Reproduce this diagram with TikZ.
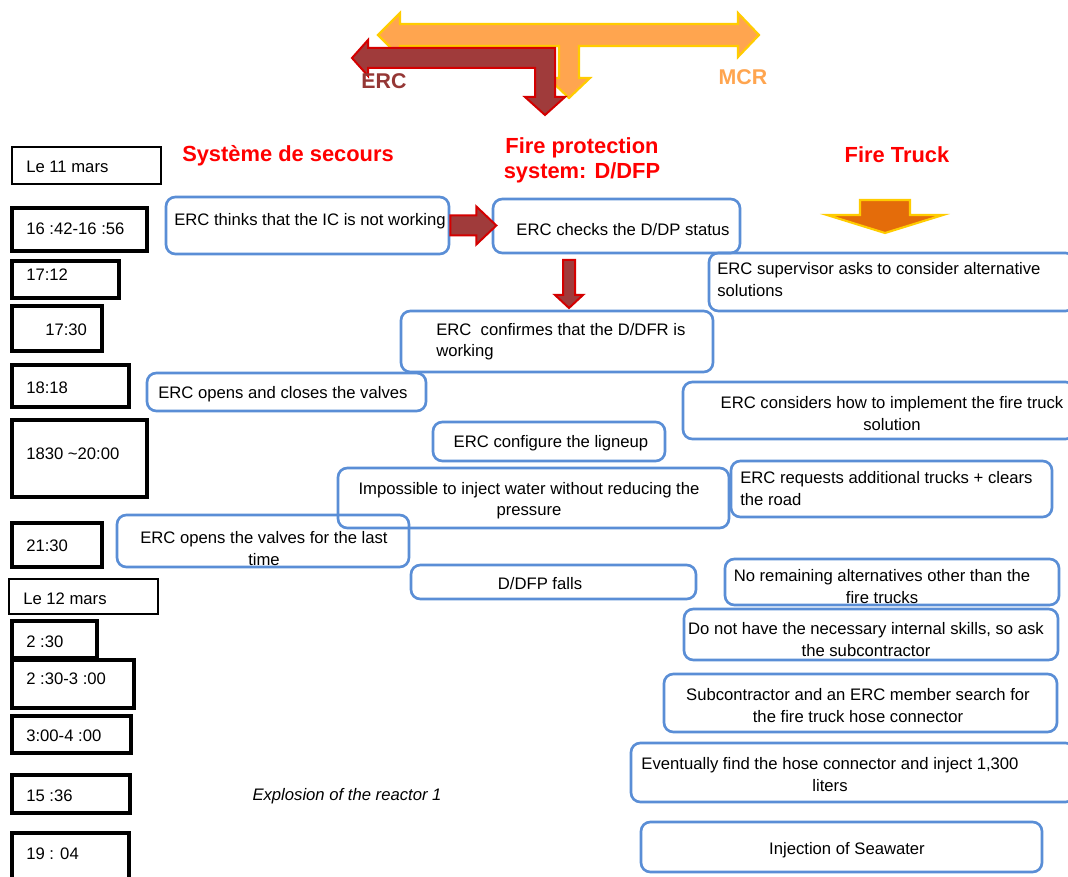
\documentclass[tikz,border=0pt]{standalone}
\usepackage{fontspec}
\setmainfont{Liberation Sans}
\usetikzlibrary{fit}
\definecolor{boxblue}{HTML}{5A8ED6}
\definecolor{hdrred}{HTML}{FF0000}
\definecolor{ercred}{HTML}{953735}
\definecolor{arrred}{HTML}{A03B3B}
\definecolor{arredge}{HTML}{D40000}
\definecolor{mcrorange}{HTML}{FFA54F}
\definecolor{goldedge}{HTML}{FFCC00}
\definecolor{truckorange}{HTML}{E46C0A}
\tikzset{
  tbox/.style={draw=black, line width=2.5pt, inner sep=0pt, fit={#1}},
  dbox/.style={draw=black, line width=1.2pt, inner sep=0pt, fit={#1}},
  bbox/.style={draw=boxblue, line width=2pt, rounded corners=7pt, inner sep=0pt, fit={#1}},
  txt/.style={font=\fontsize{12.5}{16}\selectfont, inner sep=0pt, yshift=-1.1pt},
  hdr/.style={font=\fontsize{16.4}{18.75}\selectfont\bfseries, text=hdrred, inner sep=0pt, align=center},
  redarr/.style={fill=arrred, draw=arredge, line width=1.5pt, line join=miter},
  orarr/.style={fill=mcrorange, draw=goldedge, line width=1.6pt, line join=miter},
  truckarr/.style={fill=truckorange, draw=goldedge, line width=1.6pt, line join=miter}
}
\begin{document}
\begin{tikzpicture}[x=0.75pt,y=-0.75pt]
\useasboundingbox (0,0) rectangle (1068,877);
\clip (0,0) rectangle (1068,877);
\fill[white] (0,0) rectangle (1068,877);

% top arrows
\draw[orarr] (378,35) -- (400,13) -- (400,24) -- (738,24) -- (738,13) -- (759,35)
  -- (738,57) -- (738,46) -- (579,46) -- (579,78) -- (590,78) -- (569,98)
  -- (548,78) -- (559,78) -- (559,46) -- (400,46) -- (400,57) -- cycle;
\draw[redarr] (352,58) -- (368,40) -- (368,48) -- (555,48) -- (555,97) -- (565,97)
  -- (545,115) -- (525,97) -- (535,97) -- (535,68) -- (368,68) -- (368,76) -- cycle;
\node[font=\fontsize{16}{18}\selectfont\bfseries, text=ercred, inner sep=0pt] (erc) at (384,81) {ERC};
\node[font=\fontsize{16}{18}\selectfont\bfseries, text=mcrorange, inner sep=0pt] (mcr) at (743,77) {MCR};

% headers
\node[hdr] (h1) at (288,156) {Système de secours};
\node[hdr] (h2) at (582,160) {Fire protection\\system: D/DFP};
\node[hdr] (h3) at (897,155) {Fire Truck};

% time boxes
\node[dbox={(12,147) (161,184)}] (t0) {};
\node[txt, anchor=west] (tt0) at (26,165) {Le 11 mars};
\node[tbox={(12,208) (147,251)}] (t1) {};
\node[txt, anchor=west] (tt1) at (26,227) {16 :42-16 :56};
\node[tbox={(12,261) (119,298)}] (t2) {};
\node[txt, anchor=west] (tt2) at (26,273) {17:12};
\node[tbox={(12,306) (102,351)}] (t3) {};
\node[txt, anchor=west] (tt3) at (45,328) {17:30};
\node[tbox={(12,365) (129,407)}] (t4) {};
\node[txt, anchor=west] (tt4) at (26,386) {18:18};
\node[tbox={(12,420) (147,497)}] (t5) {};
\node[txt, anchor=west] (tt5) at (26,452) {1830 \textasciitilde20:00};
\node[tbox={(12,523) (102,567)}] (t6) {};
\node[txt, anchor=west] (tt6) at (26,544) {21:30};
\node[dbox={(9,579) (158,614)}] (t7) {};
\node[txt, anchor=west] (tt7) at (23,597) {Le 12 mars};
\node[tbox={(12,621) (97,658)}] (t8) {};
\node[txt, anchor=west] (tt8) at (26,640) {2 :30};
\node[tbox={(12,660) (134,708)}] (t9) {};
\node[txt, anchor=west] (tt9) at (26,677) {2 :30-3 :00};
\node[tbox={(12,716) (131,753)}] (t10) {};
\node[txt, anchor=west] (tt10) at (26,734) {3:00-4 :00};
\node[tbox={(12,775) (130,813)}] (t11) {};
\node[txt, anchor=west] (tt11) at (26,794) {15 :36};
\node[tbox={(12,833) (129,895)}] (t12) {};
\node[txt, anchor=west] (tt12) at (26,852) {19 : 04};

% event boxes
\node[bbox={(166,197) (449,254)}] (b1) {};
\node[txt, anchor=west] (bt1) at (174,220) {ERC thinks that the IC is not working};
\node[bbox={(493,199) (740,253)}] (b2) {};
\node[txt] (bt2) at (623,228) {ERC checks the D/DP status};
\node[bbox={(709,253) (1075,311)}] (b3) {};
\node[txt, anchor=west, align=left] (bt3) at (717,278) {ERC supervisor asks to consider alternative\\solutions};
\node[bbox={(401,311) (713,372)}] (b4) {};
\node[txt, anchor=west, align=left] (bt4) at (436,340) {ERC~ confirmes that the D/DFR is\\working};
\node[bbox={(147,373) (426,411)}] (b5) {};
\node[txt, anchor=west] (bt5) at (158,393) {ERC opens and closes the valves};
\node[bbox={(683,382) (1075,439)}] (b6) {};
\node[txt, align=center] (bt6) at (892,412) {ERC considers how to implement the fire truck\\solution};
\node[bbox={(433,422) (665,461)}] (b7) {};
\node[txt] (bt7) at (551,442) {ERC configure the ligneup};
\node[bbox={(117,515) (409,567)}] (b10) {};
\node[txt, align=center] (bt10) at (264,547) {ERC opens the valves for the last\\time};
\node[bbox={(338,468) (729,528)}] (b8) {};
\node[txt, align=center] (bt8) at (529,499) {Impossible to inject water without reducing the\\pressure};
\node[bbox={(731,461) (1052,517)}] (b9) {};
\node[txt, anchor=west, align=left] (bt9) at (740,487) {ERC requests additional trucks + clears\\the road};
\node[bbox={(411,565) (696,599)}] (b11) {};
\node[txt] (bt11) at (540,582) {D/DFP falls};
\node[bbox={(725,559) (1059,605)}] (b12) {};
\node[txt, align=center] (bt12) at (882,585) {No remaining alternatives other than the\\fire trucks};
\node[bbox={(684,609) (1058,660)}] (b13) {};
\node[txt, align=center] (bt13) at (866,638) {Do not have the necessary internal skills, so ask\\the subcontractor};
\node[bbox={(664,674) (1057,732)}] (b14) {};
\node[txt, align=center] (bt14) at (858,704) {Subcontractor and an ERC member search for\\the fire truck hose connector};
\node[bbox={(631,743) (1075,802)}] (b15) {};
\node[txt, align=center] (bt15) at (830,773) {Eventually find the hose connector and inject 1,300\\liters};
\node[bbox={(641,822) (1042,872)}] (b16) {};
\node[txt] (bt16) at (847,849) {Injection of Seawater};

\node[txt, font=\fontsize{12.5}{16}\selectfont\itshape] (expl) at (347,795) {Explosion of the reactor 1};

% block arrows between boxes
\draw[redarr] (b1.east) ++(0,-10) -- ++(26,0) -- ++(0,-9) -- ++(20,19) -- ++(-20,19)
  -- ++(0,-9) -- ++(-26,0) -- cycle;
\draw[redarr] (563,260) -- (575,260) -- (575,295) -- (583,295) -- (569,308)
  -- (555,295) -- (563,295) -- cycle;
\draw[truckarr] (860,200) -- (910,200) -- (910,215) -- (943,215) -- (885,233)
  -- (827,215) -- (860,215) -- cycle;
\end{tikzpicture}
\end{document}
